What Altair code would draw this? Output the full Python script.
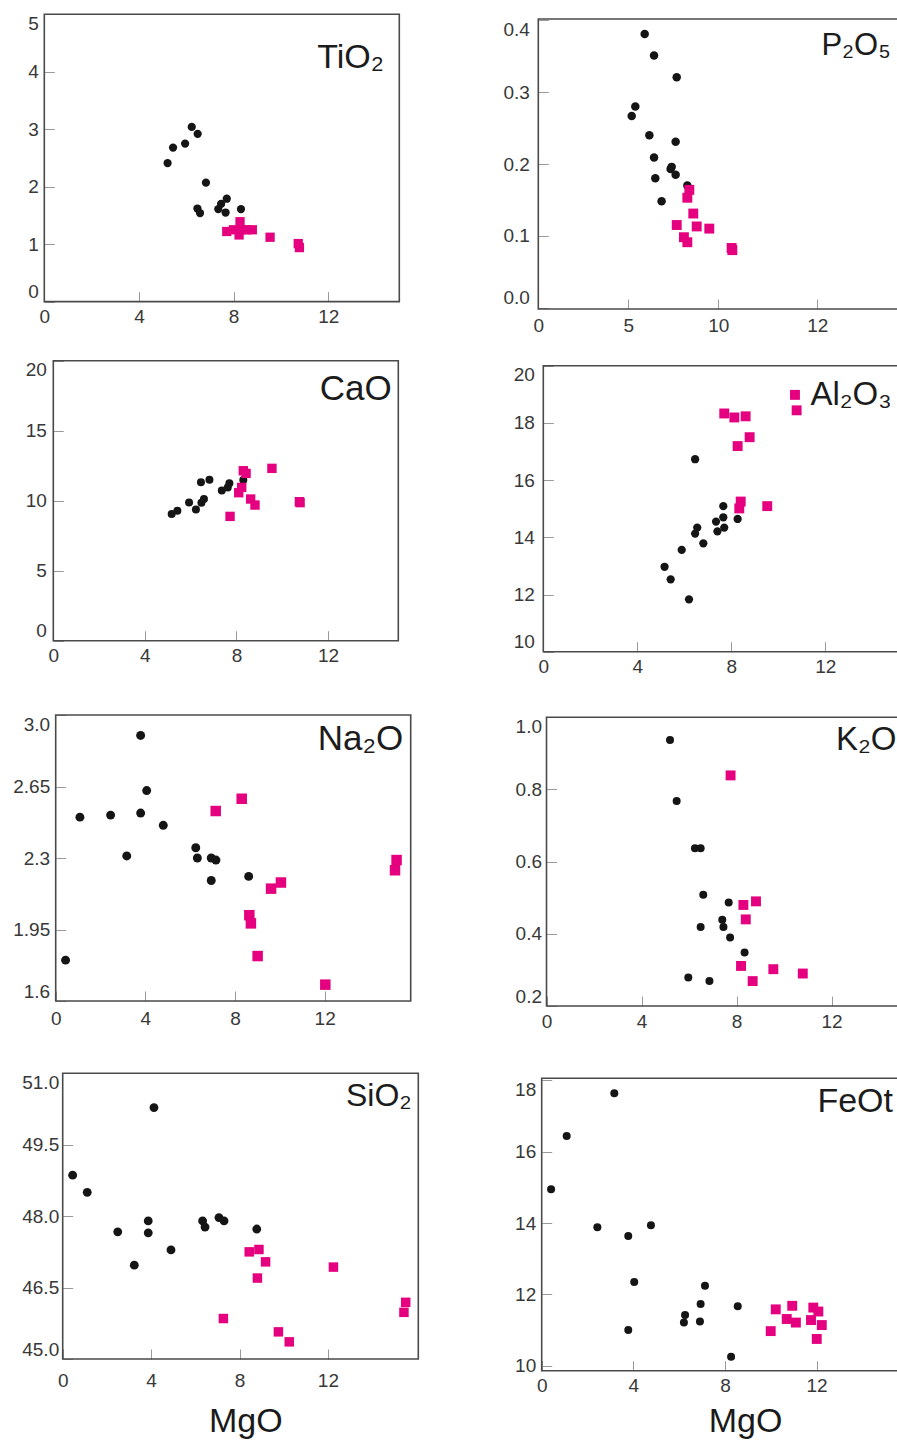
import altair as alt
import pandas as pd

W, H = 897, 1441
FONT = "Liberation Sans, Arial, DejaVu Sans"
BLACK = "#151515"
PINK = "#e4007e"
FRAME = "#4a4a4a"
TICK = "#9a9a9a"
LABEL = "#383838"

# ---------------- data: MgO (wt.%) against each oxide (wt.%) ----------------
# TiO2
tio2_black_mgo = [5.21, 5.44, 5.95, 6.23, 6.48, 6.83, 6.47, 6.58, 7.35, 7.47, 7.71, 7.66, 8.31]
tio2_black_val = [2.41, 2.68, 2.75, 3.04, 2.92, 2.07, 1.62, 1.54, 1.61, 1.70, 1.79, 1.55, 1.61]
tio2_pink_mgo = [7.71, 8.27, 8.34, 8.23, 8.55, 8.79, 7.99, 9.54, 10.73, 10.78]
tio2_pink_val = [1.22, 1.39, 1.25, 1.16, 1.25, 1.25, 1.25, 1.12, 1.01, 0.94]

# P2O5
p2o5_black_mgo = [5.91, 6.43, 7.69, 5.39, 5.19, 6.17, 7.63, 6.43, 7.41, 7.35, 7.63, 6.50, 6.85, 8.28]
p2o5_black_val = [0.381, 0.351, 0.321, 0.280, 0.267, 0.240, 0.231, 0.209, 0.196, 0.193, 0.185, 0.180, 0.148, 0.170]
p2o5_pink_mgo = [8.39, 8.28, 8.61, 7.69, 8.80, 9.50, 8.09, 8.28, 10.74, 10.78]
p2o5_pink_val = [0.164, 0.153, 0.131, 0.115, 0.113, 0.110, 0.098, 0.091, 0.083, 0.080]

# CaO
cao_black_mgo = [5.17, 5.42, 5.93, 6.23, 6.47, 6.58, 6.45, 6.82, 7.36, 7.62, 7.69, 8.30]
cao_black_val = [9.05, 9.29, 9.88, 9.38, 9.86, 10.12, 11.31, 11.50, 10.72, 10.95, 11.24, 11.48]
cao_pink_mgo = [7.72, 8.10, 8.23, 8.30, 8.42, 8.62, 8.81, 9.55, 10.75, 10.78]
cao_pink_val = [8.88, 10.57, 10.95, 12.14, 11.95, 10.12, 9.69, 12.31, 9.93, 9.86]

# Al2O3
al2o3_black_mgo = [6.46, 7.66, 7.66, 7.35, 8.27, 7.70, 7.41, 6.55, 6.46, 6.81, 5.89, 5.16, 5.42, 6.20]
al2o3_black_val = [16.73, 15.09, 14.70, 14.55, 14.64, 14.34, 14.21, 14.34, 14.13, 13.79, 13.56, 12.97, 12.53, 11.83]
al2o3_pink_mgo = [7.70, 8.13, 8.61, 8.78, 8.27, 8.40, 8.34, 9.53, 10.71, 10.78]
al2o3_pink_val = [18.33, 18.19, 18.23, 17.50, 17.19, 15.25, 15.01, 15.09, 18.98, 18.44]

# Na2O
na2o_black_mgo = [0.44, 1.08, 2.45, 3.17, 3.79, 3.79, 4.06, 4.80, 6.25, 6.32, 6.94, 7.15, 6.94, 8.61]
na2o_black_val = [1.80, 2.50, 2.51, 2.31, 2.52, 2.90, 2.63, 2.46, 2.35, 2.30, 2.30, 2.29, 2.19, 2.21]
na2o_pink_mgo = [7.14, 8.30, 9.61, 10.05, 8.64, 8.71, 9.01, 12.03, 15.21, 15.14]
na2o_pink_val = [2.53, 2.59, 2.15, 2.18, 2.02, 1.98, 1.82, 1.68, 2.29, 2.24]

# K2O
k2o_black_mgo = [5.20, 5.48, 6.25, 6.49, 6.60, 7.67, 7.40, 7.45, 6.49, 7.73, 8.34, 5.97, 6.86]
k2o_black_val = [0.937, 0.768, 0.637, 0.637, 0.508, 0.487, 0.439, 0.419, 0.419, 0.390, 0.348, 0.279, 0.269]
k2o_pink_mgo = [7.75, 8.29, 8.82, 8.39, 8.19, 8.68, 9.55, 10.79]
k2o_pink_val = [0.839, 0.480, 0.490, 0.440, 0.311, 0.269, 0.302, 0.290]

# SiO2
sio2_black_mgo = [0.45, 1.11, 4.13, 2.49, 3.87, 3.87, 3.24, 4.90, 6.33, 6.44, 7.07, 7.30, 8.78]
sio2_black_val = [48.86, 48.50, 50.28, 47.67, 47.90, 47.65, 46.97, 47.29, 47.90, 47.77, 47.97, 47.90, 47.73]
sio2_pink_mgo = [8.44, 8.88, 9.18, 8.81, 12.25, 7.27, 9.76, 10.25, 15.52, 15.44]
sio2_pink_val = [47.25, 47.30, 47.04, 46.70, 46.93, 45.85, 45.57, 45.36, 46.19, 45.98]

# FeOt
feot_black_mgo = [0.41, 1.09, 3.17, 2.43, 3.78, 4.77, 4.04, 3.78, 6.26, 6.21, 6.94, 7.13, 6.91, 8.56, 8.27]
feot_black_val = [14.95, 16.44, 17.64, 13.88, 13.64, 13.94, 12.35, 11.00, 11.42, 11.21, 11.73, 12.24, 11.24, 11.67, 10.25]
feot_pink_mgo = [10.00, 10.22, 10.70, 10.94, 11.10, 11.76, 11.86, 12.08, 12.23, 12.01]
feot_pink_val = [10.97, 11.58, 11.31, 11.68, 11.21, 11.28, 11.63, 11.52, 11.14, 10.75]

# ---------------- axis domains, ticks and tick texts ----------------
mgo_ticks = [0, 4, 8, 12]
mgo_labels = ["0", "4", "8", "12"]
p2o5_mgo_ticks = [0, 5, 10, 15.5]
p2o5_mgo_labels = ["0", "5", "10", "12"]

panels = [
    dict(name="TiO₂", black=(tio2_black_mgo, tio2_black_val), pink=(tio2_pink_mgo, tio2_pink_val),
         xdom=[0, 15], ydom=[0, 5], xt=mgo_ticks, xl=mgo_labels,
         yt=[0, 1, 2, 3, 4, 5], yl=["0", "1", "2", "3", "4", "5"], xtitle=None),
    dict(name="P₂O₅", black=(p2o5_black_mgo, p2o5_black_val), pink=(p2o5_pink_mgo, p2o5_pink_val),
         xdom=[0, 20], ydom=[-0.002, 0.402], xt=p2o5_mgo_ticks, xl=p2o5_mgo_labels,
         yt=[0.0, 0.1, 0.2, 0.3, 0.4], yl=["0.0", "0.1", "0.2", "0.3", "0.4"], xtitle=None),
    dict(name="CaO", black=(cao_black_mgo, cao_black_val), pink=(cao_pink_mgo, cao_pink_val),
         xdom=[0, 15.07], ydom=[0, 20], xt=mgo_ticks, xl=mgo_labels,
         yt=[0, 5, 10, 15, 20], yl=["0", "5", "10", "15", "20"], xtitle=None),
    dict(name="Al₂O₃", black=(al2o3_black_mgo, al2o3_black_val), pink=(al2o3_pink_mgo, al2o3_pink_val),
         xdom=[0, 15.2], ydom=[10, 20], xt=mgo_ticks, xl=mgo_labels,
         yt=[10, 12, 14, 16, 18, 20], yl=["10", "12", "14", "16", "18", "20"], xtitle=None),
    dict(name="Na₂O", black=(na2o_black_mgo, na2o_black_val), pink=(na2o_pink_mgo, na2o_pink_val),
         xdom=[0, 15.84], ydom=[1.6, 3.0], xt=mgo_ticks, xl=mgo_labels,
         yt=[1.6, 1.95, 2.3, 2.65, 3.0], yl=["1.6", "1.95", "2.3", "2.65", "3.0"], xtitle=None),
    dict(name="K₂O", black=(k2o_black_mgo, k2o_black_val), pink=(k2o_pink_mgo, k2o_pink_val),
         xdom=[0, 14.9], ydom=[0.2, 1.0], xt=mgo_ticks, xl=mgo_labels,
         yt=[0.2, 0.4, 0.6, 0.8, 1.0], yl=["0.2", "0.4", "0.6", "0.8", "1.0"], xtitle=None),
    dict(name="SiO₂", black=(sio2_black_mgo, sio2_black_val), pink=(sio2_pink_mgo, sio2_pink_val),
         xdom=[0, 16.09], ydom=[45, 51], xt=mgo_ticks, xl=mgo_labels,
         yt=[45.0, 46.5, 48.0, 49.5, 51.0], yl=["45.0", "46.5", "48.0", "49.5", "51.0"], xtitle="MgO"),
    dict(name="FeOt", black=(feot_black_mgo, feot_black_val), pink=(feot_pink_mgo, feot_pink_val),
         xdom=[0, 15.65], ydom=[9.86, 18.06], xt=mgo_ticks, xl=mgo_labels,
         yt=[10, 12, 14, 16, 18], yl=["10", "12", "14", "16", "18"], xtitle="MgO"),
]

# ---------------- placement and styling of each panel (pixels) ----------------
layout = [
    dict(xr=[44.3, 399.3], yr=[301.6, 14.3], ypad=6, xpad=6, tsize=34, talign="right", tdx=-15.3, tdy=54, circ=68, sq=86),
    dict(xr=[538.3, 898.3], yr=[309, 19], ypad=9, xpad=7, tsize=31, talign="right", tdx=-7.6, tdy=36, circ=72, sq=98),
    dict(xr=[53.3, 398.3], yr=[640.7, 360.7], ypad=7, xpad=5.4, tsize=35, talign="right", tdx=-6.6, tdy=39.3, circ=64, sq=88),
    dict(xr=[543.3, 900.5], yr=[651.7, 365.7], ypad=9, xpad=6, tsize=33, talign="right", tdx=-8.8, tdy=39.3, circ=68, sq=98),
    dict(xr=[55.7, 410.7], yr=[1001, 715], ypad=6, xpad=8.5, tsize=35, talign="right", tdx=-7.4, tdy=35, circ=80, sq=110),
    dict(xr=[546.5, 900.4], yr=[1006, 717.3], ypad=5, xpad=6.8, tsize=33, talign="left", tdx=-64.4, tdy=32.7, circ=64, sq=98),
    dict(xr=[62.7, 418.3], yr=[1359, 1073.3], ypad=4, xpad=12, tsize=32, talign="right", tdx=-6.6, tdy=32.7, circ=78, sq=90,
         mx=245.3, my=1431),
    dict(xr=[541.7, 900.1], yr=[1370.7, 1078.3], ypad=6, xpad=5.4, tsize=34, talign="right", tdx=-7.1, tdy=33.4, circ=64, sq=98,
         mx=745, my=1431),
]


def label_lookup(values, texts):
    vals = ",".join(repr(float(v)) for v in values)
    txts = ",".join("'" + t + "'" for t in texts)
    return "[" + txts + "][indexof([" + vals + "], datum.value)]"


def build_panel(p, lay):
    left, bottom = lay["xr"][0], lay["yr"][0]
    xs = alt.Scale(domain=p["xdom"], range=lay["xr"], nice=False, zero=False)
    ys = alt.Scale(domain=p["ydom"], range=lay["yr"], nice=False, zero=False)

    x_axis_kw = dict(
        orient="bottom", values=p["xt"], labelExpr=label_lookup(p["xt"], p["xl"]),
        offset=bottom - 10 - H, tickSize=10, tickColor=TICK, tickWidth=1,
        domain=False, grid=False, labelPadding=lay["xpad"], labelFontSize=19,
        labelFont=FONT, labelColor=LABEL, labelOverlap=False, labelBound=False,
        labelFlush=False, title=p["xtitle"],
    )
    if p["xtitle"]:
        x_axis_kw.update(titleX=lay["mx"], titleY=lay["my"] - (bottom - 10), titleFontSize=34,
                         titleFont=FONT, titleFontWeight="normal", titleColor="#1a1a1a",
                         titleBaseline="alphabetic", titleAlign="center")
    xa = alt.Axis(**x_axis_kw)
    ya = alt.Axis(
        orient="left", values=p["yt"], labelExpr=label_lookup(p["yt"], p["yl"]),
        offset=-(left + 10), tickSize=10, tickColor=TICK, tickWidth=1,
        domain=False, grid=False, labelPadding=lay["ypad"], labelFontSize=19,
        labelFont=FONT, labelColor=LABEL, labelOverlap=False, labelBound=False,
        labelFlush=3, labelFlushOffset=0, title=None,
    )

    one = pd.DataFrame({"panel": [p["name"]]})
    black = pd.DataFrame({"mgo": p["black"][0], "oxide": p["black"][1]})
    pink = pd.DataFrame({"mgo": p["pink"][0], "oxide": p["pink"][1]})

    frame = alt.Chart(one).mark_rect(fillOpacity=0, stroke=FRAME, strokeWidth=1.6).encode(
        x=alt.X(datum=p["xdom"][0], type="quantitative", scale=xs, axis=xa),
        x2=alt.X2(datum=p["xdom"][1]),
        y=alt.Y(datum=p["ydom"][0], type="quantitative", scale=ys, axis=ya),
        y2=alt.Y2(datum=p["ydom"][1]),
    )
    dots = alt.Chart(black).mark_circle(size=lay["circ"], color=BLACK, opacity=1).encode(
        x=alt.X("mgo:Q", scale=xs, axis=xa),
        y=alt.Y("oxide:Q", scale=ys, axis=ya),
    )
    squares = alt.Chart(pink).mark_square(size=lay["sq"], color=PINK, opacity=1).encode(
        x=alt.X("mgo:Q", scale=xs, axis=xa),
        y=alt.Y("oxide:Q", scale=ys, axis=ya),
    )
    name = alt.Chart(one).mark_text(
        align=lay["talign"], baseline="alphabetic", dx=lay["tdx"], dy=lay["tdy"],
        fontSize=lay["tsize"], font=FONT, color="#1c1c1c",
    ).encode(
        x=alt.X(datum=p["xdom"][1], type="quantitative", scale=xs, axis=xa),
        y=alt.Y(datum=p["ydom"][1], type="quantitative", scale=ys, axis=ya),
        text="panel:N",
    )
    return alt.layer(frame, dots, squares, name)


chart = alt.layer(*[build_panel(p, l) for p, l in zip(panels, layout)]).resolve_scale(
    x="independent", y="independent"
).properties(
    width=W, height=H, padding=0, autosize="none", background="white"
).configure_view(strokeWidth=0)

chart.save("out.html", embed_options={"renderer": "svg", "actions": False})
